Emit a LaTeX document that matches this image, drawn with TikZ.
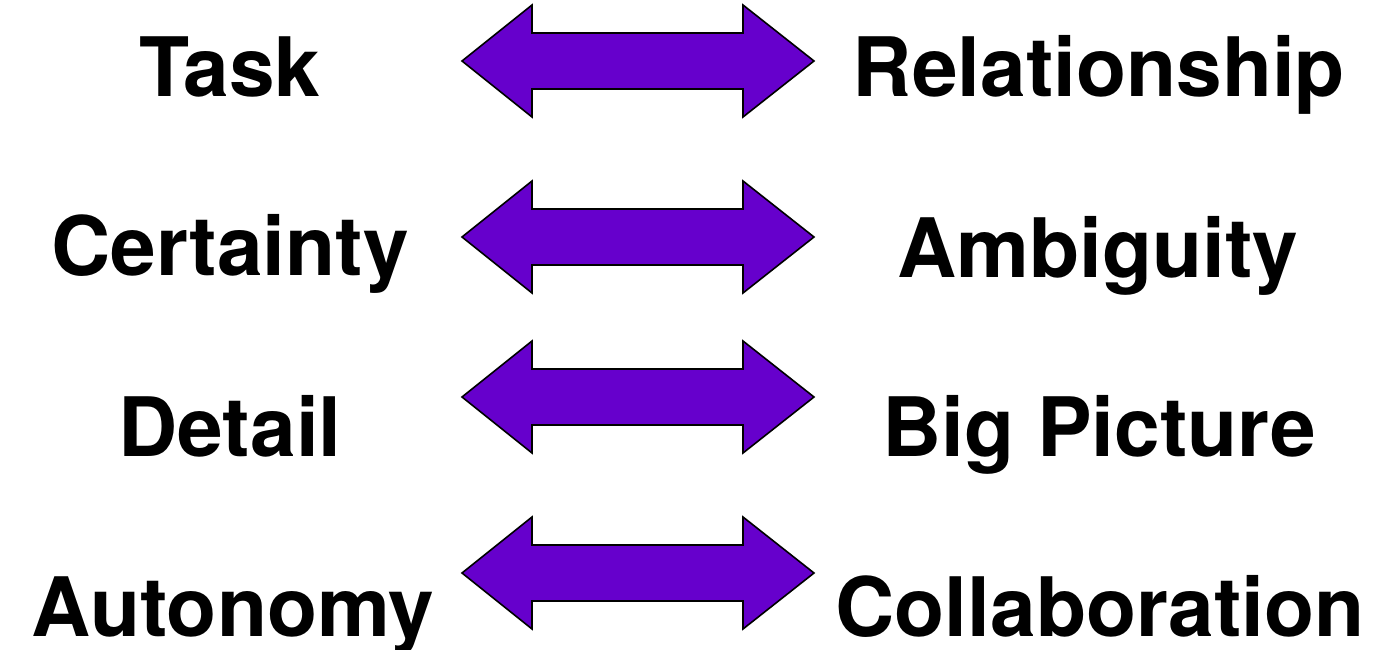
\documentclass[tikz,border=0pt]{standalone}
\usepackage{fontspec}
\setmainfont{TeX Gyre Heros}
\definecolor{arrowpurple}{RGB}{102,0,204}
\tikzset{
  lbl/.style={anchor=base, inner sep=0pt, font=\fontsize{82}{96}\selectfont\bfseries},
  dblarrow/.style={fill=arrowpurple, draw=black, line width=1.6pt, line join=miter}
}
\newcommand{\mydblarrow}[1]{%
  \path[dblarrow] (462,#1) -- (532,#1-56) -- (532,#1-28) -- (743,#1-28) -- (743,#1-56)
    -- (814,#1) -- (743,#1+56) -- (743,#1+28) -- (532,#1+28) -- (532,#1+56) -- cycle;}
\begin{document}
\begin{tikzpicture}[x=1pt,y=-1pt]
\useasboundingbox (0,0) rectangle (1389,650);
\mydblarrow{61}
\mydblarrow{237}
\mydblarrow{397}
\mydblarrow{573}
\node[lbl] (task) at (230,97) {Task};
\node[lbl] (rel) at (1099,97) {Relationship};
\node[lbl] (cert) at (230,275) {Certainty};
\node[lbl] (amb) at (1098,277) {Ambiguity};
\node[lbl] (det) at (230,456) {Detail};
\node[lbl] (big) at (1099,456) {Big Picture};
\node[lbl] (aut) at (233,636) {Autonomy};
\node[lbl] (col) at (1100,636) {Collaboration};
\end{tikzpicture}
\end{document}
